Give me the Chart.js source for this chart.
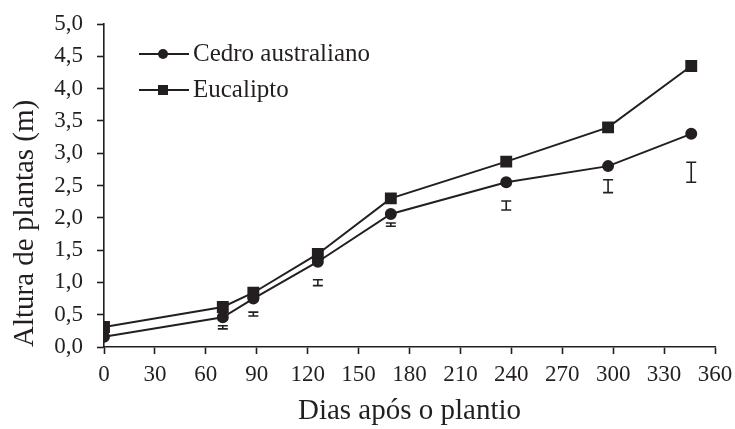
<!DOCTYPE html>
<html>
<head>
<meta charset="utf-8">
<script src="https://cdn.jsdelivr.net/npm/chart.js@4/dist/chart.umd.min.js"></script>
<style>
  html, body { margin: 0; padding: 0; background: #ffffff; }
  #wrap { width: 735px; height: 429px; }
</style>
</head>
<body>
<div id="wrap"><canvas id="c" width="735" height="429"></canvas></div>
<script>
// Data
const days = [0, 70, 88, 126, 169, 237, 297, 346];
const cedro = [0.16, 0.46, 0.75, 1.32, 2.06, 2.55, 2.80, 3.30];
const eucalipto = [0.31, 0.62, 0.84, 1.44, 2.30, 2.87, 3.40, 4.35];
const errLow = [null, 0.28, 0.48, 0.95, 1.87, 2.12, 2.39, 2.55];
const errHigh = [null, 0.33, 0.54, 1.04, 1.92, 2.26, 2.59, 2.86];
const seriesNames = ['Cedro australiano', 'Eucalipto'];
const xTitle = 'Dias após o plantio';
const yTitle = 'Altura de plantas (m)';

const INK = '#231f20';
const FONT = "'Liberation Serif', 'Times New Roman', serif";

const toPts = arr => days.map((d, i) => ({ x: d, y: arr[i] }));

const errorBars = {
  id: 'errorBars',
  afterDatasetsDraw(chart) {
    const { ctx, scales: { x, y } } = chart;
    ctx.save();
    ctx.strokeStyle = INK;
    ctx.lineWidth = 1.6;
    days.forEach((d, i) => {
      if (errLow[i] == null) return;
      const px = x.getPixelForValue(d);
      const y1 = y.getPixelForValue(errLow[i]);
      const y2 = y.getPixelForValue(errHigh[i]);
      const w = 5;
      ctx.beginPath();
      ctx.moveTo(px, y1); ctx.lineTo(px, y2);
      ctx.moveTo(px - w, y1); ctx.lineTo(px + w, y1);
      ctx.moveTo(px - w, y2); ctx.lineTo(px + w, y2);
      ctx.stroke();
    });
    ctx.restore();
  }
};

const lineLegend = {
  id: 'lineLegend',
  afterDraw(chart) {
    const { ctx } = chart;
    const rows = [54, 90];
    ctx.save();
    chart.data.datasets.forEach((ds, i) => {
      const yy = rows[i];
      ctx.strokeStyle = INK;
      ctx.lineWidth = 2;
      ctx.beginPath();
      ctx.moveTo(139, yy); ctx.lineTo(189, yy);
      ctx.stroke();
      ctx.fillStyle = INK;
      if (ds.pointStyle === 'rect') {
        ctx.fillRect(163 - 5, yy - 5, 10, 10);
      } else {
        ctx.beginPath();
        ctx.arc(163, yy, 5, 0, Math.PI * 2);
        ctx.fill();
      }
      ctx.font = "25px " + FONT;
      ctx.textBaseline = 'middle';
      ctx.textAlign = 'left';
      ctx.fillText(ds.label, 193, yy);
    });
    ctx.restore();
  }
};

new Chart(document.getElementById('c'), {
  type: 'line',
  data: {
    datasets: [
      {
        label: seriesNames[0],
        data: toPts(cedro),
        borderColor: INK,
        backgroundColor: INK,
        borderWidth: 2,
        pointStyle: 'circle',
        pointRadius: 5,
        pointHoverRadius: 5,
        tension: 0
      },
      {
        label: seriesNames[1],
        data: toPts(eucalipto),
        borderColor: INK,
        backgroundColor: INK,
        borderWidth: 2,
        pointStyle: 'rect',
        pointRadius: 7,
        pointHoverRadius: 7,
        tension: 0
      }
    ]
  },
  options: {
    responsive: false,
    animation: false,
    devicePixelRatio: 1,
    layout: { padding: { top: 24, right: 20, left: 0, bottom: 0 } },
    plugins: {
      legend: { display: false },
      tooltip: { enabled: false }
    },
    scales: {
      x: {
        type: 'linear',
        min: 0,
        max: 360,
        afterFit(s) { s.height = 82; s.paddingLeft = 0; s.paddingRight = 0; },
        border: { display: true, color: INK, width: 1.6 },
        grid: { display: true, drawOnChartArea: false, drawTicks: true, tickLength: 7, tickColor: INK, tickWidth: 1.6 },
        ticks: {
          stepSize: 30,
          color: INK,
          padding: 7,
          maxRotation: 0,
          autoSkip: false,
          font: { family: FONT, size: 23 }
        },
        title: {
          display: true,
          text: xTitle,
          color: INK,
          font: { family: FONT, size: 29 },
          padding: { top: 0, bottom: 0 }
        }
      },
      y: {
        type: 'linear',
        min: 0,
        max: 5,
        afterFit(s) { s.width = 104; s.paddingTop = 0; s.paddingBottom = 0; },
        border: { display: true, color: INK, width: 1.6 },
        grid: { display: true, drawOnChartArea: false, drawTicks: true, tickLength: 7, tickColor: INK, tickWidth: 1.6 },
        ticks: {
          stepSize: 0.5,
          color: INK,
          padding: 14,
          font: { family: FONT, size: 23 },
          callback: v => v.toFixed(1).replace('.', ',')
        },
        title: {
          display: true,
          text: yTitle,
          align: 'start',
          color: INK,
          font: { family: FONT, size: 29 },
          padding: { top: 8, bottom: 0 }
        }
      }
    }
  },
  plugins: [errorBars, lineLegend]
});
</script>
</body>
</html>
